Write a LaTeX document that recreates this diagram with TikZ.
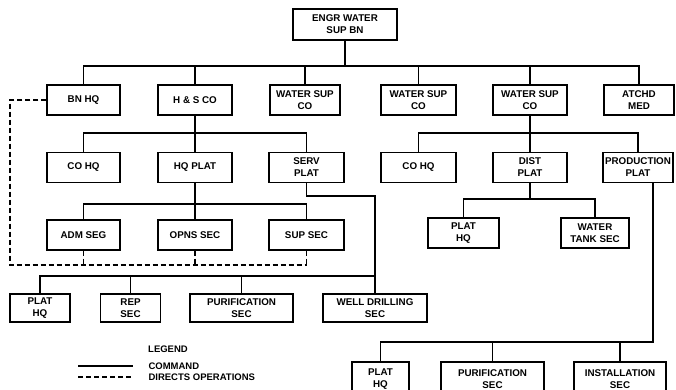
\documentclass[tikz,border=0pt]{standalone}
\usepackage{fontspec}
\setmainfont{Liberation Sans}
\begin{document}
\begin{tikzpicture}[x=1pt, y=-1pt, line width=1.1pt,
	unit/.style={draw, align=center, inner sep=0pt, minimum height=30pt, font=\fontsize{9.8}{12}\selectfont\bfseries},
	label/.style={inner sep=0pt, font=\fontsize{9.5}{11}\selectfont\bfseries},
	directs/.style={dash pattern=on 5pt off 3pt}]
	\useasboundingbox (0,0) rectangle (676,389);
	% top
	\node[unit, minimum width=104pt, minimum height=31pt] (engr) at (345,24.5) {ENGR WATER\\SUP BN};
	% companies
	\node[unit, minimum width=73pt] (bnhq) at (83.5,100) {BN HQ};
	\node[unit, minimum width=74pt] (hsco) at (195,100) {H \& S CO};
	\node[unit, minimum width=70pt] (wsupA) at (305,100) {WATER SUP\\CO};
	\node[unit, minimum width=75pt] (wsupB) at (418.5,100) {WATER SUP\\CO};
	\node[unit, minimum width=74pt] (wsupC) at (530,100) {WATER SUP\\CO};
	\node[unit, minimum width=70pt] (atchd) at (639,100) {ATCHD\\MED};
	% platoons
	\node[unit, minimum width=73pt] (cohqA) at (83.5,167.5) {CO HQ};
	\node[unit, minimum width=74pt] (hqplat) at (195,167.5) {HQ PLAT};
	\node[unit, minimum width=75pt] (servplat) at (306.5,167.5) {SERV\\PLAT};
	\node[unit, minimum width=75pt] (cohqB) at (418.5,167.5) {CO HQ};
	\node[unit, minimum width=74pt] (distplat) at (530,167.5) {DIST\\PLAT};
	\node[unit, minimum width=70pt] (prodplat) at (638,167.5) {PRODUCTION\\PLAT};
	% sections
	\node[unit, minimum width=73pt] (admsec) at (83.5,235) {ADM SEG};
	\node[unit, minimum width=74pt] (opnssec) at (195,235) {OPNS SEC};
	\node[unit, minimum width=75pt] (supsec) at (306.5,235) {SUP SEC};
	\node[unit, minimum width=71pt] (plathqB) at (463.5,233) {PLAT\\HQ};
	\node[unit, minimum width=68pt] (tanksec) at (595,233) {WATER\\TANK SEC};
	\node[unit, minimum width=60pt, minimum height=28pt] (plathqA) at (40,308) {PLAT\\HQ};
	\node[unit, minimum width=60pt, minimum height=28pt] (repsec) at (130.5,308) {REP\\SEC};
	\node[unit, minimum width=103pt, minimum height=28pt] (purifA) at (241.5,308) {PURIFICATION\\SEC};
	\node[unit, minimum width=104pt, minimum height=28pt] (welldrill) at (375,308) {WELL DRILLING\\SEC};
	\node[unit, minimum width=57pt, minimum height=34pt] (plathqC) at (380.5,379) {PLAT\\HQ};
	\node[unit, minimum width=103pt, minimum height=34pt] (purifB) at (492.5,379) {PURIFICATION\\SEC};
	\node[unit, minimum width=92pt, minimum height=34pt] (install) at (620,379) {INSTALLATION\\SEC};

	\coordinate (busA) at (345,66);
	\coordinate (busB) at (195,133);
	\coordinate (busC) at (530,133);
	\coordinate (busD) at (195,204);
	\coordinate (busE) at (530,199);
	\coordinate (servturn) at (375,196);
	\coordinate (busF) at (375,276);
	\coordinate (busG) at (653,342);
	\coordinate (dashcorner) at (10,265);
	\coordinate (dashend) at (306.5,265);

	\draw (engr.south) -- (busA);
	\draw (bnhq.north) |- (busA) -| (atchd.north);
	\foreach \n in {hsco,wsupA,wsupB,wsupC}
		\draw (\n.north) -- (\n.north |- busA);
	\draw (hsco.south) -- (busB);
	\draw (cohqA.north) |- (busB) -| (servplat.north);
	\draw (hqplat.north) -- (busB);
	\draw (wsupC.south) -- (busC);
	\draw (cohqB.north) |- (busC) -| (prodplat.north);
	\draw (distplat.north) -- (busC);
	\draw (hqplat.south) -- (busD);
	\draw (admsec.north) |- (busD) -| (supsec.north);
	\draw (opnssec.north) -- (busD);
	\draw (distplat.south) -- (busE);
	\draw (plathqB.north) |- (busE) -| (tanksec.north);
	\draw (servplat.south) |- (servturn) -- (welldrill.north);
	\draw (plathqA.north) |- (busF);
	\foreach \n in {repsec,purifA}
		\draw (\n.north) -- (\n.north |- busF);
	\draw (busG |- prodplat.south) -- (busG) -| (plathqC.north);
	\foreach \n in {purifB,install}
		\draw (\n.north) -- (\n.north |- busG);
	\draw[directs] (bnhq.west) -| (dashcorner) -- (dashend);
	\foreach \n in {admsec,opnssec,supsec}
		\draw[directs] (\n.south) -- (\n.south |- dashend);

	% legend
	\node[label] (legend) at (168,349) {LEGEND};
	\node[label, anchor=west] (cmdtext) at (148,366) {COMMAND};
	\node[label, anchor=west] (dirtext) at (148,377) {DIRECTS OPERATIONS};
	\coordinate (cmdA) at (78,366);
	\coordinate (dirA) at (78,377);
	\draw (cmdA) -- ([xshift=-15pt]cmdtext.west);
	\draw[directs] (dirA) -- ([xshift=-15pt]dirtext.west);
\end{tikzpicture}
\end{document}
